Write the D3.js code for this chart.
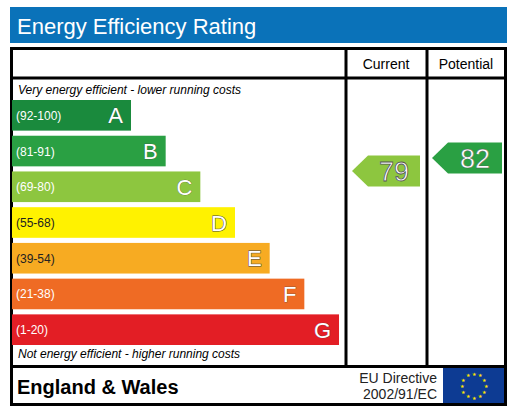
<!DOCTYPE html><html><head><meta charset="utf-8"><script src="https://cdn.jsdelivr.net/npm/d3@7"></script>
<style>body{margin:0;background:#fff}</style></head><body><script>
const bands=["A","B","C","D","E","F","G"];
const ranges=["(92-100)","(81-91)","(69-80)","(55-68)","(39-54)","(21-38)","(1-20)"];
const colors=["#1a8a3d","#2aa043","#8dc63f","#fff200","#f7ab22","#ef6b24","#e31e25"];
const barLen=[1,2,3,4,5,6,7];
const ratingLabels=["Current","Potential"];
const ratingValues=[79,82];
const ratingColors=["#8dc63f","#2aa043"];
const F="Liberation Sans, Arial, sans-serif";
const svg=d3.select("body").append("svg").attr("width",517).attr("height",417);
svg.append("rect").attr("x",10).attr("y",7).attr("width",497).attr("height",36).attr("fill","#0a72b9");
svg.append("text").attr("x",17).attr("y",34).attr("font-family",F).attr("font-size",22).attr("fill","#fff").text("Energy Efficiency Rating");
const bx=(x,y,w,h)=>svg.append("rect").attr("x",x).attr("y",y).attr("width",w).attr("height",h).attr("fill","none").attr("stroke","#000").attr("stroke-width",3);
bx(11.5,48.5,494,318);bx(11.5,366.5,494,38);
svg.append("line").attr("x1",11).attr("x2",506).attr("y1",78).attr("y2",78).attr("stroke","#000").attr("stroke-width",3);
[346,427].forEach(x=>svg.append("line").attr("x1",x).attr("x2",x).attr("y1",48).attr("y2",366).attr("stroke","#000").attr("stroke-width",3));
svg.append("text").attr("x",386).attr("y",69).attr("text-anchor","middle").attr("font-family",F).attr("font-size",14).text(ratingLabels[0]);
svg.append("text").attr("x",466).attr("y",69).attr("text-anchor","middle").attr("font-family",F).attr("font-size",14).text(ratingLabels[1]);
svg.append("text").attr("x",18).attr("y",94).attr("font-family",F).attr("font-size",12).attr("font-style","italic").text("Very energy efficient - lower running costs");
svg.append("text").attr("x",18).attr("y",358).attr("font-family",F).attr("font-size",12).attr("font-style","italic").text("Not energy efficient - higher running costs");
const y=d3.scaleBand().domain(bands).range([100,345]).paddingInner(5/35).paddingOuter(0);
const w=d3.scaleLinear().domain([1,7]).range([119,327]);
const g=svg.append("g");
bands.forEach((b,i)=>{
 g.append("rect").attr("x",12).attr("y",y(b)).attr("width",w(barLen[i])).attr("height",y.bandwidth()).attr("fill",colors[i]);
 const dark=(b==="D"||b==="E");
 g.append("text").attr("x",16).attr("y",y(b)+y.bandwidth()/2+4.5).attr("font-family",F).attr("font-size",12).attr("fill",dark?"#222":"#fff").text(ranges[i]);
 g.append("text").attr("x",12+w(barLen[i])-8).attr("y",y(b)+y.bandwidth()/2+8).attr("text-anchor","end").attr("font-family",F).attr("font-size",22).attr("fill","#fff")
  .attr("stroke","#444").attr("stroke-width",dark?1:0.5).attr("paint-order","stroke").text(b);
});
const ry=d3.scaleLinear().domain([1,100]).range([509,80]);
[[352,420],[432,502]].forEach(([x0,x1],i)=>{
 const cy=ry(ratingValues[i]),h=31;
 svg.append("path").attr("d",`M${x0},${cy}L${x0+16},${cy-h/2}L${x1},${cy-h/2}L${x1},${cy+h/2}L${x0+16},${cy+h/2}Z`).attr("fill",ratingColors[i]);
 svg.append("text").attr("x",(x0+16+x1)/2).attr("y",cy+10).attr("text-anchor","middle").attr("font-family",F).attr("font-size",27).attr("fill","#fff")
  .attr("stroke","#555").attr("stroke-width",i===0?0.8:0.4).text(ratingValues[i]);
});
svg.append("text").attr("x",17).attr("y",394).attr("font-family",F).attr("font-size",20).attr("font-weight","bold").text("England & Wales");
svg.append("text").attr("x",437).attr("y",383).attr("text-anchor","end").attr("font-family",F).attr("font-size",14).attr("fill","#222").text("EU Directive");
svg.append("text").attr("x",437).attr("y",399).attr("text-anchor","end").attr("font-family",F).attr("font-size",14).attr("fill","#222").text("2002/91/EC");
svg.append("rect").attr("x",443).attr("y",368).attr("width",61).attr("height",35).attr("fill","#0d3b93");
d3.range(12).forEach(k=>{const a=k*Math.PI/6;
 svg.append("text").attr("x",473.5+12*Math.sin(a)).attr("y",385.5-12*Math.cos(a)+2).attr("text-anchor","middle").attr("font-size",5).attr("fill","#ffe600").text("★");});
</script></body></html>
